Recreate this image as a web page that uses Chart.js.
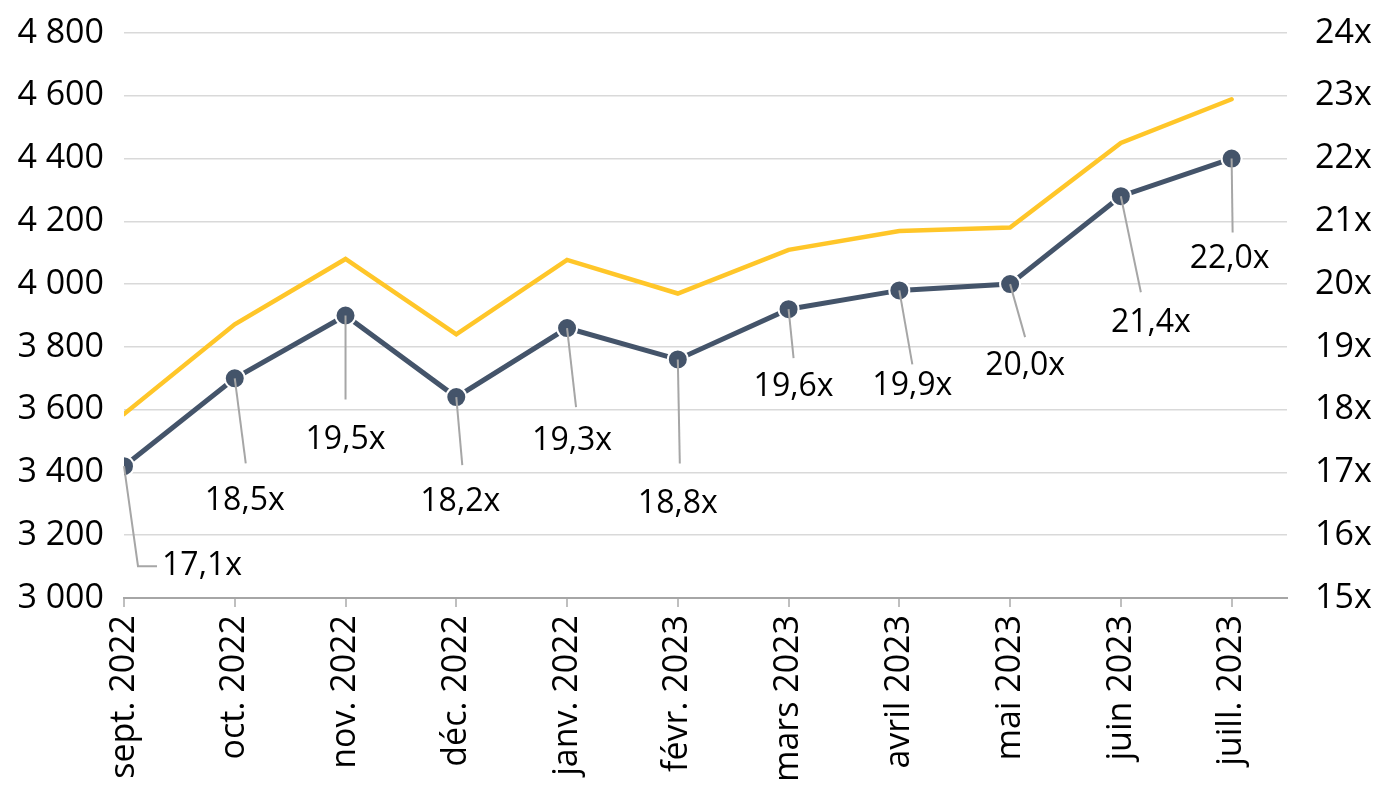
<!DOCTYPE html>
<html lang="fr">
<head>
<meta charset="utf-8">
<title>S&amp;P 500 et ratio cours/bénéfice</title>
<script src="https://cdn.jsdelivr.net/npm/chart.js@4.4.0/dist/chart.umd.min.js"></script>
<style>
    html, body { margin: 0; padding: 0; background: #ffffff; }
    #wrap { width: 1380px; height: 800px; position: relative; }
</style>
</head>
<body>
<div id="wrap"><canvas id="peChart"></canvas></div>
<script>
        // Months on the x axis
        const months = ['sept. 2022', 'oct. 2022', 'nov. 2022', 'déc. 2022', 'janv. 2022', 'févr. 2023',
                        'mars 2023', 'avril 2023', 'mai 2023', 'juin 2023', 'juill. 2023'];

        // Index level (left axis) and P/E multiple (right axis)
        const indexLevel = [3586, 3872, 4080, 3840, 4077, 3970, 4109, 4169, 4180, 4450, 4589];
        const peRatio = [17.1, 18.5, 19.5, 18.2, 19.3, 18.8, 19.6, 19.9, 20.0, 21.4, 22.0];
        const peLabels = ['17,1x', '18,5x', '19,5x', '18,2x', '19,3x', '18,8x', '19,6x', '19,9x', '20,0x', '21,4x', '22,0x'];

        const fontFamily = '"Open Sans", "Noto Sans", sans-serif';
        const navy = '#44546a';
        const yellow = '#ffc629';

        // Leader line end and label centre, relative to each point (pixels)
        const leaderOffsets = [
            [14, 100], [11, 85], [0, 84], [6, 68], [9, 79], [2, 104],
            [5, 49], [13, 74], [15, 53], [20, 96], [1, 74]
        ];
        const labelOffsets = [
            [78, 100], [10, 123], [0, 124], [4, 105], [5, 113], [0, 144],
            [5, 78], [13, 96], [15, 82], [30, 127], [-2, 100]
        ];

        const leaderLabels = {
            id: 'leaderLabels',
            afterDatasetsDraw(chart) {
                const ctx = chart.ctx;
                const meta = chart.getDatasetMeta(1);
                ctx.save();
                ctx.strokeStyle = '#a6a6a6';
                ctx.lineWidth = 2;
                ctx.fillStyle = '#000000';
                ctx.font = '32px ' + fontFamily;
                ctx.textAlign = 'center';
                ctx.textBaseline = 'middle';
                meta.data.forEach(function(pt, i) {
                    const lx = pt.x + leaderOffsets[i][0];
                    const ly = pt.y + leaderOffsets[i][1];
                    ctx.beginPath();
                    ctx.moveTo(pt.x, pt.y);
                    ctx.lineTo(lx, ly);
                    if (i === 0) {
                        // elbow to the right for the first label
                        ctx.lineTo(lx + 19, ly);
                    }
                    ctx.stroke();
                    ctx.fillText(peLabels[i], pt.x + labelOffsets[i][0], pt.y + labelOffsets[i][1]);
                });
                ctx.restore();
            }
        };

        const ctx = document.getElementById('peChart').getContext('2d');
        const peChart = new Chart(ctx, {
            type: 'line',
            data: {
                datasets: [{
                    label: 'Indice',
                    data: indexLevel.map((v, i) => ({ x: i, y: v })),
                    borderColor: yellow,
                    borderWidth: 4.5,
                    pointRadius: 0,
                    borderCapStyle: 'round',
                    yAxisID: 'y',
                    order: 2
                }, {
                    label: 'Ratio C/B',
                    data: peRatio.map((v, i) => ({ x: i, y: v })),
                    borderColor: navy,
                    borderWidth: 5,
                    pointRadius: 10,
                    pointBackgroundColor: navy,
                    pointBorderColor: '#ffffff',
                    pointBorderWidth: 2,
                    yAxisID: 'y1',
                    order: 1
                }]
            },
            options: {
                responsive: true,
                maintainAspectRatio: false,
                animation: false,
                layout: {
                    padding: { top: 33, left: 0, right: 0, bottom: 0 }
                },
                plugins: {
                    legend: { display: false },
                    tooltip: { enabled: false }
                },
                scales: {
                    x: {
                        type: 'linear',
                        min: 0,
                        max: 10.5,
                        afterBuildTicks: function(scale) {
                            scale.ticks = months.map((m, i) => ({ value: i }));
                        },
                        afterFit: function(scale) {
                            scale.height = 202;
                        },
                        ticks: {
                            autoSkip: false,
                            maxRotation: 90,
                            minRotation: 90,
                            padding: 8,
                            color: '#000000',
                            font: { family: fontFamily, size: 34 },
                            callback: function(value) {
                                return months[value];
                            }
                        },
                        grid: {
                            drawOnChartArea: false,
                            drawTicks: true,
                            tickLength: 9,
                            color: '#bfbfbf',
                            lineWidth: 2
                        },
                        border: {
                            display: true,
                            color: '#a6a6a6',
                            width: 2
                        }
                    },
                    y: {
                        type: 'linear',
                        position: 'left',
                        min: 3000,
                        max: 4800,
                        afterFit: function(scale) {
                            scale.width = 124;
                        },
                        ticks: {
                            stepSize: 200,
                            padding: 0,
                            color: '#000000',
                            font: { family: fontFamily, size: 34 },
                            callback: function(value) {
                                return value.toLocaleString('fr-FR').replace(/\s/g, ' ');
                            }
                        },
                        grid: {
                            color: '#d9d9d9',
                            lineWidth: 1.5,
                            drawTicks: true,
                            tickLength: 20,
                            tickColor: 'rgba(0,0,0,0)'
                        },
                        border: { display: false }
                    },
                    y1: {
                        type: 'linear',
                        position: 'right',
                        min: 15,
                        max: 24,
                        afterFit: function(scale) {
                            scale.width = 93;
                        },
                        ticks: {
                            stepSize: 1,
                            padding: 0,
                            color: '#000000',
                            font: { family: fontFamily, size: 34 },
                            callback: function(value) {
                                return value + 'x';
                            }
                        },
                        grid: {
                            drawOnChartArea: false,
                            drawTicks: true,
                            tickLength: 28,
                            tickColor: 'rgba(0,0,0,0)'
                        },
                        border: { display: false }
                    }
                }
            },
            plugins: [leaderLabels]
        });
</script>
</body>
</html>
